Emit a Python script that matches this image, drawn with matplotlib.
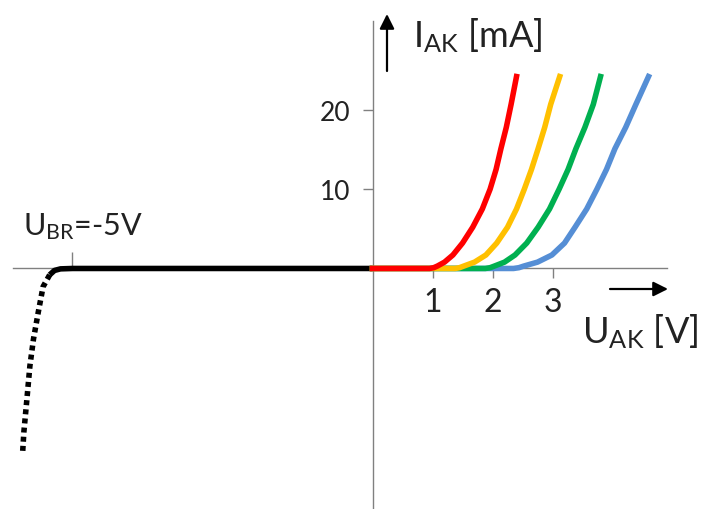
import matplotlib
matplotlib.use("Agg")
import matplotlib.pyplot as plt

plt.rcParams['font.family'] = ['Lato', 'DejaVu Sans']
plt.rcParams['mathtext.fontset'] = 'custom'
plt.rcParams['mathtext.rm'] = 'Lato'
plt.rcParams['mathtext.it'] = 'Lato:italic'

# forward current levels (mA) shared by the four LED curves
i_fwd = [0, 0, 0.1, 0.3, 0.8, 1.7, 3.2, 5.2, 7.5, 10.0, 12.5, 15.1, 17.8, 20.7, 24.2]
u_red = [0, 0.95, 1.02, 1.08, 1.2, 1.34, 1.5, 1.67, 1.83, 1.96, 2.06, 2.14, 2.23, 2.31, 2.40]
u_yellow = [0, 1.38, 1.45, 1.52, 1.7, 1.89, 2.07, 2.25, 2.40, 2.53, 2.65, 2.76, 2.87, 2.97, 3.12]
u_green = [0, 1.88, 1.96, 2.03, 2.2, 2.375, 2.57, 2.76, 2.95, 3.11, 3.26, 3.39, 3.54, 3.68, 3.80]
u_blue = [0, 2.35, 2.44, 2.52, 2.75, 2.99, 3.2, 3.375, 3.57, 3.74, 3.90, 4.04, 4.22, 4.39, 4.60]

# reverse region: blocking part and breakdown (dotted)
u_rev = [-5.38, -5.3, -5.2, -5.0, 0.0]
i_rev = [-0.8, -0.25, -0.05, 0.0, 0.0]
u_br = [-5.38, -5.49, -5.57, -5.65, -5.71, -5.76, -5.81, -5.83]
i_br = [-0.8, -2.3, -5.5, -8.9, -12.3, -16.5, -20.6, -23.1]

x_ticks = [1, 2, 3]
y_ticks = [10, 20]

fig = plt.figure(figsize=(7.09, 5.10), dpi=100)
ax = fig.add_axes([0, 0, 1, 1])
ax.set_xlim(-6.208, 5.608)
ax.set_ylim(-30.33, 33.98)

axis_col = '#808080'
for s in ['top', 'right']:
    ax.spines[s].set_visible(False)
ax.spines['bottom'].set_position(('data', 0))
ax.spines['left'].set_position(('data', 0))
ax.spines['bottom'].set_bounds(-5.99, 4.91)
ax.spines['left'].set_bounds(-30.4, 31.2)
for s in ['bottom', 'left']:
    ax.spines[s].set_color(axis_col)
    ax.spines[s].set_linewidth(1.0)

lw = 4.0
ax.plot(u_blue, i_fwd, color='#558ED5', lw=lw, zorder=3, solid_joinstyle='round')
ax.plot(u_green, i_fwd, color='#00B050', lw=lw, zorder=4, solid_joinstyle='round')
ax.plot(u_yellow, i_fwd, color='#FFC000', lw=lw, zorder=5, solid_joinstyle='round')
ax.plot(u_red, i_fwd, color='#FF0000', lw=lw, zorder=6, solid_joinstyle='round')
ax.plot(u_rev, i_rev, color='black', lw=lw, zorder=3, solid_joinstyle='round',
        solid_capstyle='butt')
ax.plot(u_br, i_br, color='black', lw=lw, zorder=3, linestyle=(0, (0.9, 0.75)),
        dash_capstyle='butt')

ax.set_xticks(x_ticks)
ax.set_xticks([-5], minor=True)
ax.set_yticks(y_ticks)
ax.tick_params(axis='x', which='major', direction='out', length=7, width=1.0,
               color=axis_col, labelsize=23, pad=6, labelcolor='#222222')
ax.tick_params(axis='x', which='minor', direction='in', length=11.5, width=1.0,
               color=axis_col, labelbottom=False)
ax.tick_params(axis='y', direction='out', length=7, width=1.0, color=axis_col,
               labelsize=19, pad=9, labelcolor='#222222')

W, H = 709, 510
fig.text(413 / W, 1 - 47 / H, r'$\mathrm{I_{AK}}$ [mA]', fontsize=26,
         color='#222222', va='baseline', ha='left')
fig.text(582 / W, 1 - 343 / H, r'$\mathrm{U_{AK}}$ [V]', fontsize=26,
         color='#222222', va='baseline', ha='left')
fig.text(23 / W, 1 - 235 / H, r'$\mathrm{U_{BR}}$=-5V', fontsize=22,
         color='#222222', va='baseline', ha='left')

arrow = dict(arrowstyle='-|>', color='black', lw=1.6, mutation_scale=22,
             shrinkA=0, shrinkB=0)
ax.annotate('', xy=(668, H - 290), xytext=(610, H - 290),
            xycoords='figure pixels', textcoords='figure pixels', arrowprops=arrow)
ax.annotate('', xy=(387, H - 15), xytext=(387, H - 72),
            xycoords='figure pixels', textcoords='figure pixels', arrowprops=arrow)

fig.savefig('out.png', dpi=100)
